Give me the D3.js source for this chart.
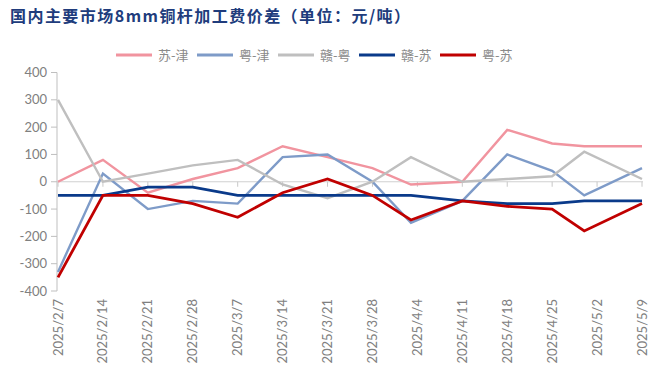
<!DOCTYPE html>
<html>
<head>
<meta charset="utf-8">
<script src="https://d3js.org/d3.v7.min.js"></script>
<style>
  body { margin: 0; background: #fff; overflow: hidden; }
  .tick-label { font-family: Lato, "Noto Sans", sans-serif; font-size: 13px; fill: #808080; }
  .legend-text { font-family: "Noto Sans CJK SC", sans-serif; font-size: 13px; fill: #8a8a8a; }
</style>
</head>
<body>
<script>
// data (dates are the actual report days; 4/3 and 4/30 were holiday shifts)
var dates = ["2025-02-07", "2025-02-14", "2025-02-21", "2025-02-28", "2025-03-07", "2025-03-14", "2025-03-21",
             "2025-03-28", "2025-04-03", "2025-04-11", "2025-04-18", "2025-04-25", "2025-04-30", "2025-05-09"];
var seriesNames = ["苏-津", "粤-津", "赣-粤", "赣-苏", "粤-苏"];
var suJin  = [0, 80, -40, 10, 50, 130, 90, 50, -10, 0, 190, 140, 130, 130];
var yueJin = [-330, 30, -100, -70, -80, 90, 100, 0, -150, -70, 100, 40, -50, 50];
var ganYue = [300, 0, 30, 60, 80, -10, -60, 0, 90, 0, 10, 20, 110, 10];
var ganSu  = [-50, -50, -20, -20, -50, -50, -50, -50, -50, -70, -80, -80, -70, -70];
var yueSu  = [-350, -50, -50, -80, -130, -40, 10, -50, -140, -70, -90, -100, -180, -80];
var yTicks = [400, 300, 200, 100, 0, -100, -200, -300, -400];

var colors = ["#F1949F", "#7E9BC8", "#BFBFBF", "#0A3A8A", "#C00000"];
var allSeries = [suJin, yueJin, ganYue, ganSu, yueSu];

var svg = d3.select("body").append("svg")
  .attr("width", 660)
  .attr("height", 374);

// title
svg.append("text")
  .attr("x", 10)
  .attr("y", 22)
  .attr("textLength", 400)
  .attr("lengthAdjust", "spacing")
  .style("font-family", "'Noto Sans CJK SC', sans-serif")
  .style("font-size", "16px")
  .style("font-weight", "bold")
  .style("fill", "#203C7C")
  .text("国内主要市场8mm铜杆加工费价差（单位：元/吨）");

var parse = d3.utcParse("%Y-%m-%d");
var start = parse("2025-02-07"), end = parse("2025-05-09");

var x = d3.scaleUtc().domain([start, end]).range([58, 642]);
var y = d3.scaleLinear().domain([-400, 400]).range([291, 72.5]);

// y axis
svg.append("line")
  .attr("x1", 57).attr("x2", 57)
  .attr("y1", y(400)).attr("y2", y(-400))
  .attr("stroke", "#BFBFBF").attr("stroke-width", 1);

yTicks.forEach(function(t) {
  svg.append("line")
    .attr("x1", 51).attr("x2", 57)
    .attr("y1", y(t)).attr("y2", y(t))
    .attr("stroke", "#BFBFBF");
  svg.append("text")
    .attr("class", "tick-label")
    .attr("x", 47)
    .attr("y", y(t))
    .attr("dy", "0.35em")
    .attr("text-anchor", "end")
    .text(t);
});

// zero line with weekly ticks
svg.append("line")
  .attr("x1", 57).attr("x2", 643)
  .attr("y1", y(0)).attr("y2", y(0))
  .attr("stroke", "#D0D0D0").attr("stroke-width", 1.2);

var weeks = d3.utcFriday.range(start, d3.utcDay.offset(end, 1));
var fmt = d3.utcFormat("%Y/%-m/%-d");

weeks.forEach(function(d) {
  svg.append("line")
    .attr("x1", x(d)).attr("x2", x(d))
    .attr("y1", y(0)).attr("y2", y(0) + 5)
    .attr("stroke", "#C8C8C8");
  svg.append("text")
    .attr("class", "tick-label")
    .attr("transform", "translate(" + (x(d) + 4.5) + "," + 299 + ") rotate(-90)")
    .attr("text-anchor", "end")
    .text(fmt(d));
});

// lines
var line = d3.line()
  .x(function(d, i) { return x(parse(dates[i])); })
  .y(function(d) { return y(d); });

allSeries.forEach(function(s, k) {
  svg.append("path")
    .datum(s)
    .attr("fill", "none")
    .attr("stroke", colors[k])
    .attr("stroke-width", k >= 3 ? 2.8 : 2.4)
    .attr("stroke-linejoin", "miter")
    .attr("d", line);
});

// legend
var legend = svg.append("g").attr("transform", "translate(116, 55)");
seriesNames.forEach(function(name, k) {
  var g = legend.append("g").attr("transform", "translate(" + (k * 81) + ",0)");
  g.append("line")
    .attr("x1", 0).attr("x2", 36)
    .attr("y1", 0).attr("y2", 0)
    .attr("stroke", colors[k])
    .attr("stroke-width", 2.8);
  g.append("text")
    .attr("class", "legend-text")
    .attr("x", 42)
    .attr("dy", "0.35em")
    .text(name);
});
</script>
</body>
</html>
